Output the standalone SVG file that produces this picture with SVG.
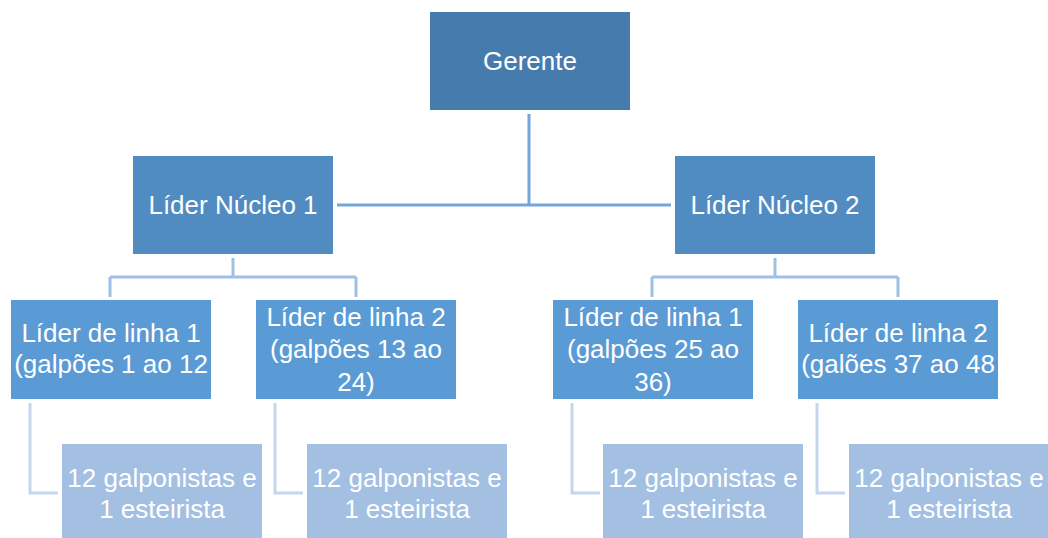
<svg xmlns="http://www.w3.org/2000/svg" width="1048" height="538" viewBox="0 0 1048 538">
<style>
text{font-family:"Liberation Sans",Arial,sans-serif;font-size:26px;fill:#ffffff;text-anchor:middle}
.l0{fill:#467CAD}
.l1{fill:#508CC2}
.l2{fill:#5B9BD5}
.l3{fill:#A3C0E3}
.c0{stroke:#74A6DA;stroke-width:3;fill:none}
.c1{stroke:#9DC1E6;stroke-width:3;fill:none}
.c2{stroke:#C3D6EE;stroke-width:3;fill:none}
</style>
<rect width="1048" height="538" fill="#ffffff"/>
<g id="connectors">
<path class="c0" d="M529,114 V205 M337,205 H671"/>
<path class="c1" d="M233,258 V277 M110,277 H356 M110,277 V297 M356,277 V297"/>
<path class="c1" d="M775,258 V277 M652,277 H898 M652,277 V297 M898,277 V297"/>
<path class="c2" d="M30,403 V493 H58"/>
<path class="c2" d="M275,403 V493 H303"/>
<path class="c2" d="M572,403 V493 H600"/>
<path class="c2" d="M817,403 V493 H845"/>
</g>
<g id="gerente"><rect class="l0" x="430" y="12" width="200" height="98"/><text x="530" y="70">Gerente</text></g>
<g id="nucleo1"><rect class="l1" x="133" y="156" width="200" height="98"/><text x="233" y="214">Líder Núcleo 1</text></g>
<g id="nucleo2"><rect class="l1" x="675" y="156" width="200" height="98"/><text x="775" y="214">Líder Núcleo 2</text></g>
<g id="linha1a"><rect class="l2" x="11" y="300" width="200" height="99"/><text x="111" y="342">Líder de linha 1</text><text x="111" y="373">(galpões 1 ao 12</text></g>
<g id="linha2a"><rect class="l2" x="256" y="300" width="200" height="99"/><text x="356" y="326">Líder de linha 2</text><text x="356" y="358">(galpões 13 ao</text><text x="356" y="391">24)</text></g>
<g id="linha1b"><rect class="l2" x="553" y="300" width="200" height="99"/><text x="653" y="326">Líder de linha 1</text><text x="653" y="358">(galpões 25 ao</text><text x="653" y="391">36)</text></g>
<g id="linha2b"><rect class="l2" x="798" y="300" width="200" height="99"/><text x="898" y="342">Líder de linha 2</text><text x="898" y="373">(galões 37 ao 48</text></g>
<g id="equipe1a"><rect class="l3" x="62" y="444" width="200" height="98"/><text x="162" y="487">12 galponistas e</text><text x="162" y="518">1 esteirista</text></g>
<g id="equipe2a"><rect class="l3" x="307" y="444" width="200" height="98"/><text x="407" y="487">12 galponistas e</text><text x="407" y="518">1 esteirista</text></g>
<g id="equipe1b"><rect class="l3" x="603" y="444" width="200" height="98"/><text x="703" y="487">12 galponistas e</text><text x="703" y="518">1 esteirista</text></g>
<g id="equipe2b"><rect class="l3" x="849" y="444" width="200" height="98"/><text x="949" y="487">12 galponistas e</text><text x="949" y="518">1 esteirista</text></g>
</svg>
